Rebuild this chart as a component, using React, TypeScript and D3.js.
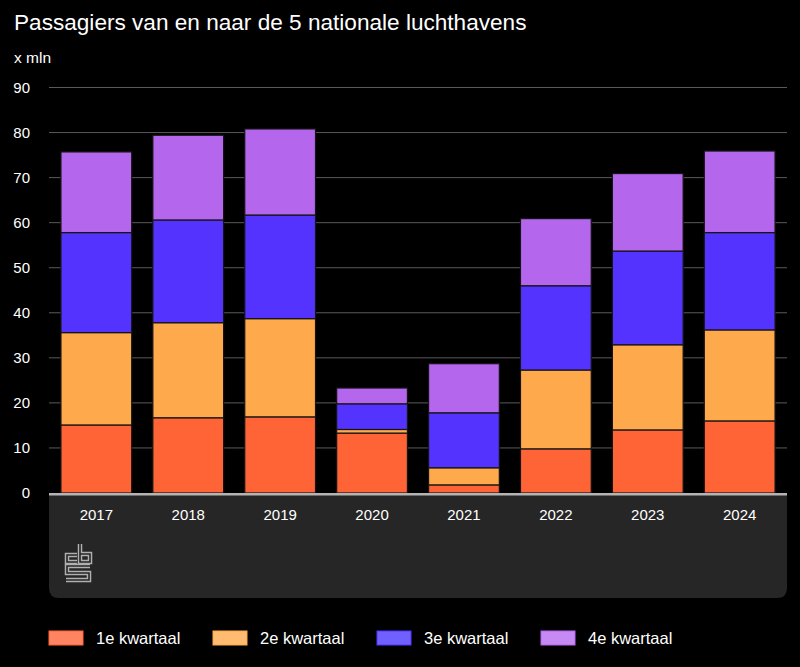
import React from "react";
import * as d3 from "d3";

const years = ["2017", "2018", "2019", "2020", "2021", "2022", "2023", "2024"];
const quarters = ["1e kwartaal", "2e kwartaal", "3e kwartaal", "4e kwartaal"];
const q1 = [15.1, 16.7, 16.9, 13.3, 1.8, 9.8, 14.0, 16.0];
const q2 = [20.5, 21.1, 21.8, 0.8, 3.8, 17.5, 18.9, 20.2];
const q3 = [22.2, 22.8, 23.0, 5.7, 12.2, 18.7, 20.8, 21.6];
const q4 = [17.9, 18.8, 19.1, 3.5, 10.9, 14.9, 17.2, 18.1];
const yTicks = [0, 10, 20, 30, 40, 50, 60, 70, 80, 90];
const colors = ["#ff6437", "#ffa94d", "#5533ff", "#b466ec"];
const legendColors = ["#ff8462", "#ffbb70", "#7060ff", "#c78af5"];

const W = 800, H = 667;
const left = 49, right = 787, top = 87.5, bottom = 493;
const font = "'Liberation Sans', Arial, sans-serif";

export default function App() {
  const x = d3.scaleBand<string>().domain(years).range([left, right]).paddingInner(0.23).paddingOuter(0.13);
  const y = d3.scaleLinear().domain([0, 90]).range([bottom, top]);
  const table = years.map((yr, i) => ({ year: yr, q0: q1[i], q1: q2[i], q2: q3[i], q3: q4[i] }));
  const stack = d3.stack<any>().keys(["q0", "q1", "q2", "q3"])(table);

  return (
    <svg width={W} height={H} style={{ position: "absolute", left: 0, top: 0, display: "block", background: "#000" }} fontFamily={font}>
      <rect x={0} y={0} width={W} height={H} fill="#000" />
      <text x={14} y={30} fill="#fff" fontSize={22.6}>Passagiers van en naar de 5 nationale luchthavens</text>
      <text x={14} y={63} fill="#fff" fontSize={15.5}>x mln</text>
      {yTicks.map((t) => (
        <g key={t}>
          {t > 0 && <line x1={left} x2={right} y1={y(t)} y2={y(t)} stroke="#5a5a5a" strokeWidth={1} />}
          <text x={30} y={y(t)} dy="0.35em" fill="#fff" fontSize={15} textAnchor="end">{t}</text>
        </g>
      ))}
      <path d={`M${left},${bottom} H${right} V${598 - 10} Q${right},598 ${right - 10},598 H${left + 10} Q${left},598 ${left},${588} Z`} fill="#262626" />
      {stack.map((s, k) => (
        <g key={k}>
          {s.map((d, i) => (
            <rect key={i} x={x(years[i])} width={x.bandwidth()} y={y(d[1])} height={y(d[0]) - y(d[1])}
              fill={colors[k]} stroke="#151515" strokeWidth={1.2} />
          ))}
        </g>
      ))}
      <rect x={left} y={bottom} width={right - left} height={2.5} fill="#b4b4b4" />
      {years.map((yr) => (
        <text key={yr} x={(x(yr) as number) + x.bandwidth() / 2} y={515} dy="0.35em" fill="#fff" fontSize={15} textAnchor="middle">{yr}</text>
      ))}
      <g fill="none" strokeLinejoin="miter">
        {[
          "M77,555 H67 V562 H77",
          "M80,544 V562 H90 V554 H80",
          "M90,566 H67 V573 H89 V580 H66",
        ].map((p, i) => (
          <g key={i}>
            <path d={p} stroke="#b0b0b0" strokeWidth={4.5} />
            <path d={p} stroke="#262626" strokeWidth={1.6} />
          </g>
        ))}
      </g>
      {quarters.map((q, i) => (
        <g key={q} transform={`translate(${49 + i * 164},631)`}>
          <rect x={0} y={0} width={34} height={14} fill={legendColors[i]} stroke={colors[i]} strokeWidth={1} />
          <text x={47} y={7} dy="0.35em" fill="#fff" fontSize={16.5}>{q}</text>
        </g>
      ))}
    </svg>
  );
}
